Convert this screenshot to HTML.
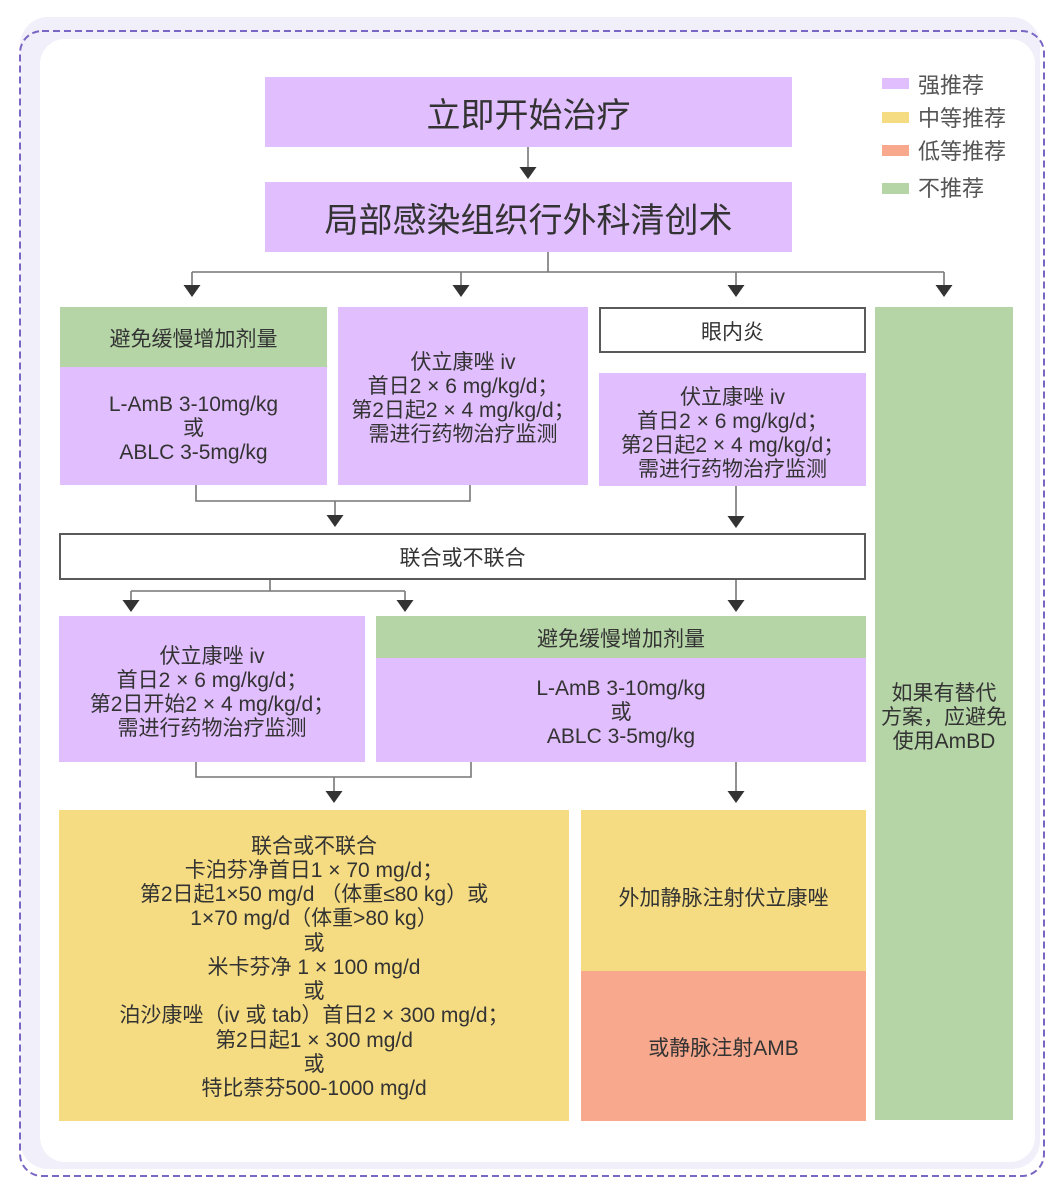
<!DOCTYPE html>
<html>
<head>
<meta charset="utf-8">
<style>
  html,body{margin:0;padding:0;}
  body{width:1057px;height:1200px;position:relative;overflow:hidden;background:#fff;
    font-family:"Liberation Sans","Noto Sans CJK SC",sans-serif;color:#333;}
  .b{position:absolute;display:flex;flex-direction:column;align-items:center;justify-content:center;
    text-align:center;font-size:21px;line-height:24px;box-sizing:border-box;white-space:nowrap;padding-top:5px;}
  .p{background:#e1befd;}
  .g{background:#b6d5a7;}
  .y{background:#f5dc82;}
  .s{background:#f8a98d;}
  .w{background:#fff;border:2px solid #5a5a5a;}
  .big{font-size:34px;line-height:40px;padding-top:8px;}
  .lg{position:absolute;left:882px;width:27px;height:11px;}
  .lt{position:absolute;left:918px;font-size:22px;line-height:26px;color:#555;
    font-family:"Liberation Sans","Noto Sans CJK SC",sans-serif;}
  svg{position:absolute;left:0;top:0;}
</style>
</head>
<body>
<svg width="1057" height="1200" viewBox="0 0 1057 1200">
  <rect x="20" y="17" width="1020" height="1152" rx="28" fill="#f1eff9"/>
  <rect x="40" y="39" width="995" height="1123" rx="25" fill="#fff"/>
  <rect x="20" y="31" width="1024" height="1145" rx="22" fill="none" stroke="#7a66c4" stroke-width="2" stroke-dasharray="7 4"/>
</svg>

<!-- legend -->
<div class="lg" style="top:78px;background:#e1befd;"></div>
<div class="lt" style="top:73px;">强推荐</div>
<div class="lg" style="top:112px;background:#f5dc82;"></div>
<div class="lt" style="top:106px;">中等推荐</div>
<div class="lg" style="top:145px;background:#f8a98d;"></div>
<div class="lt" style="top:139px;">低等推荐</div>
<div class="lg" style="top:183px;background:#b6d5a7;"></div>
<div class="lt" style="top:176px;">不推荐</div>

<!-- top boxes -->
<div class="b p big" style="left:265px;top:77px;width:527px;height:70px;">立即开始治疗</div>
<div class="b p big" style="left:265px;top:182px;width:527px;height:70px;">局部感染组织行外科清创术</div>

<!-- row 1 -->
<div class="b g" style="left:60px;top:307px;width:267px;height:60px;">避免缓慢增加剂量</div>
<div class="b p" style="left:60px;top:367px;width:267px;height:118px;">
  <div>L-AmB 3-10mg/kg</div><div>或</div><div>ABLC 3-5mg/kg</div>
</div>
<div class="b p" style="left:338px;top:307px;width:250px;height:178px;">
  <div>伏立康唑 iv</div><div>首日2 × 6 mg/kg/d；</div><div>第2日起2 × 4 mg/kg/d；</div><div>需进行药物治疗监测</div>
</div>
<div class="b w" style="left:599px;top:307px;width:267px;height:46px;">眼内炎</div>
<div class="b p" style="left:599px;top:373px;width:267px;height:113px;padding-top:8px;">
  <div>伏立康唑 iv</div><div>首日2 × 6 mg/kg/d；</div><div>第2日起2 × 4 mg/kg/d；</div><div>需进行药物治疗监测</div>
</div>
<div class="b g" style="left:875px;top:307px;width:138px;height:813px;padding-top:8px;">
  <div>如果有替代</div><div>方案，应避免</div><div>使用AmBD</div>
</div>

<!-- combine box -->
<div class="b w" style="left:59px;top:533px;width:807px;height:47px;">联合或不联合</div>

<!-- row 2 -->
<div class="b p" style="left:59px;top:616px;width:306px;height:146px;padding-top:8px;">
  <div>伏立康唑 iv</div><div>首日2 × 6 mg/kg/d；</div><div>第2日开始2 × 4 mg/kg/d；</div><div>需进行药物治疗监测</div>
</div>
<div class="b g" style="left:376px;top:616px;width:490px;height:42px;">避免缓慢增加剂量</div>
<div class="b p" style="left:376px;top:658px;width:490px;height:104px;">
  <div>L-AmB 3-10mg/kg</div><div>或</div><div>ABLC 3-5mg/kg</div>
</div>

<!-- row 3 -->
<div class="b y" style="left:59px;top:810px;width:510px;height:311px;line-height:24.2px;">
  <div>联合或不联合</div>
  <div>卡泊芬净首日1 × 70 mg/d；</div>
  <div>第2日起1×50 mg/d （体重≤80 kg）或</div>
  <div>1×70 mg/d（体重&gt;80 kg）</div>
  <div>或</div>
  <div>米卡芬净 1 × 100 mg/d</div>
  <div>或</div>
  <div>泊沙康唑（iv 或 tab）首日2 × 300 mg/d；</div>
  <div>第2日起1 × 300 mg/d</div>
  <div>或</div>
  <div>特比萘芬500-1000 mg/d</div>
</div>
<div class="b y" style="left:581px;top:810px;width:285px;height:161px;padding-top:17px;">外加静脉注射伏立康唑</div>
<div class="b s" style="left:581px;top:971px;width:285px;height:150px;">或静脉注射AMB</div>

<!-- connectors -->
<svg width="1057" height="1200" viewBox="0 0 1057 1200">
  <g stroke="#777" stroke-width="1.6" fill="none">
    <line x1="528" y1="147" x2="528" y2="168"/>
    <line x1="548" y1="252" x2="548" y2="272"/>
    <line x1="192" y1="272" x2="944" y2="272"/>
    <line x1="192" y1="272" x2="192" y2="286"/>
    <line x1="461" y1="272" x2="461" y2="286"/>
    <line x1="736" y1="272" x2="736" y2="286"/>
    <line x1="944" y1="272" x2="944" y2="286"/>
    <polyline points="196,485 196,501 470,501 470,485"/>
    <line x1="335" y1="501" x2="335" y2="516"/>
    <line x1="736" y1="486" x2="736" y2="517"/>
    <line x1="270" y1="580" x2="270" y2="591"/>
    <line x1="131" y1="591" x2="405" y2="591"/>
    <line x1="131" y1="591" x2="131" y2="601"/>
    <line x1="405" y1="591" x2="405" y2="601"/>
    <line x1="736" y1="580" x2="736" y2="601"/>
    <polyline points="196,762 196,777 471,777 471,762"/>
    <line x1="334" y1="777" x2="334" y2="792"/>
    <line x1="736" y1="762" x2="736" y2="792"/>
  </g>
  <g fill="#333">
    <polygon points="519.5,167 536.5,167 528,179"/>
    <polygon points="183.5,285 200.5,285 192,297"/>
    <polygon points="452.5,285 469.5,285 461,297"/>
    <polygon points="727.5,285 744.5,285 736,297"/>
    <polygon points="935.5,285 952.5,285 944,297"/>
    <polygon points="326.5,515 343.5,515 335,527"/>
    <polygon points="727.5,516 744.5,516 736,528"/>
    <polygon points="122.5,600 139.5,600 131,612"/>
    <polygon points="396.5,600 413.5,600 405,612"/>
    <polygon points="727.5,600 744.5,600 736,612"/>
    <polygon points="325.5,791 342.5,791 334,803"/>
    <polygon points="727.5,791 744.5,791 736,803"/>
  </g>
</svg>
</body>
</html>
